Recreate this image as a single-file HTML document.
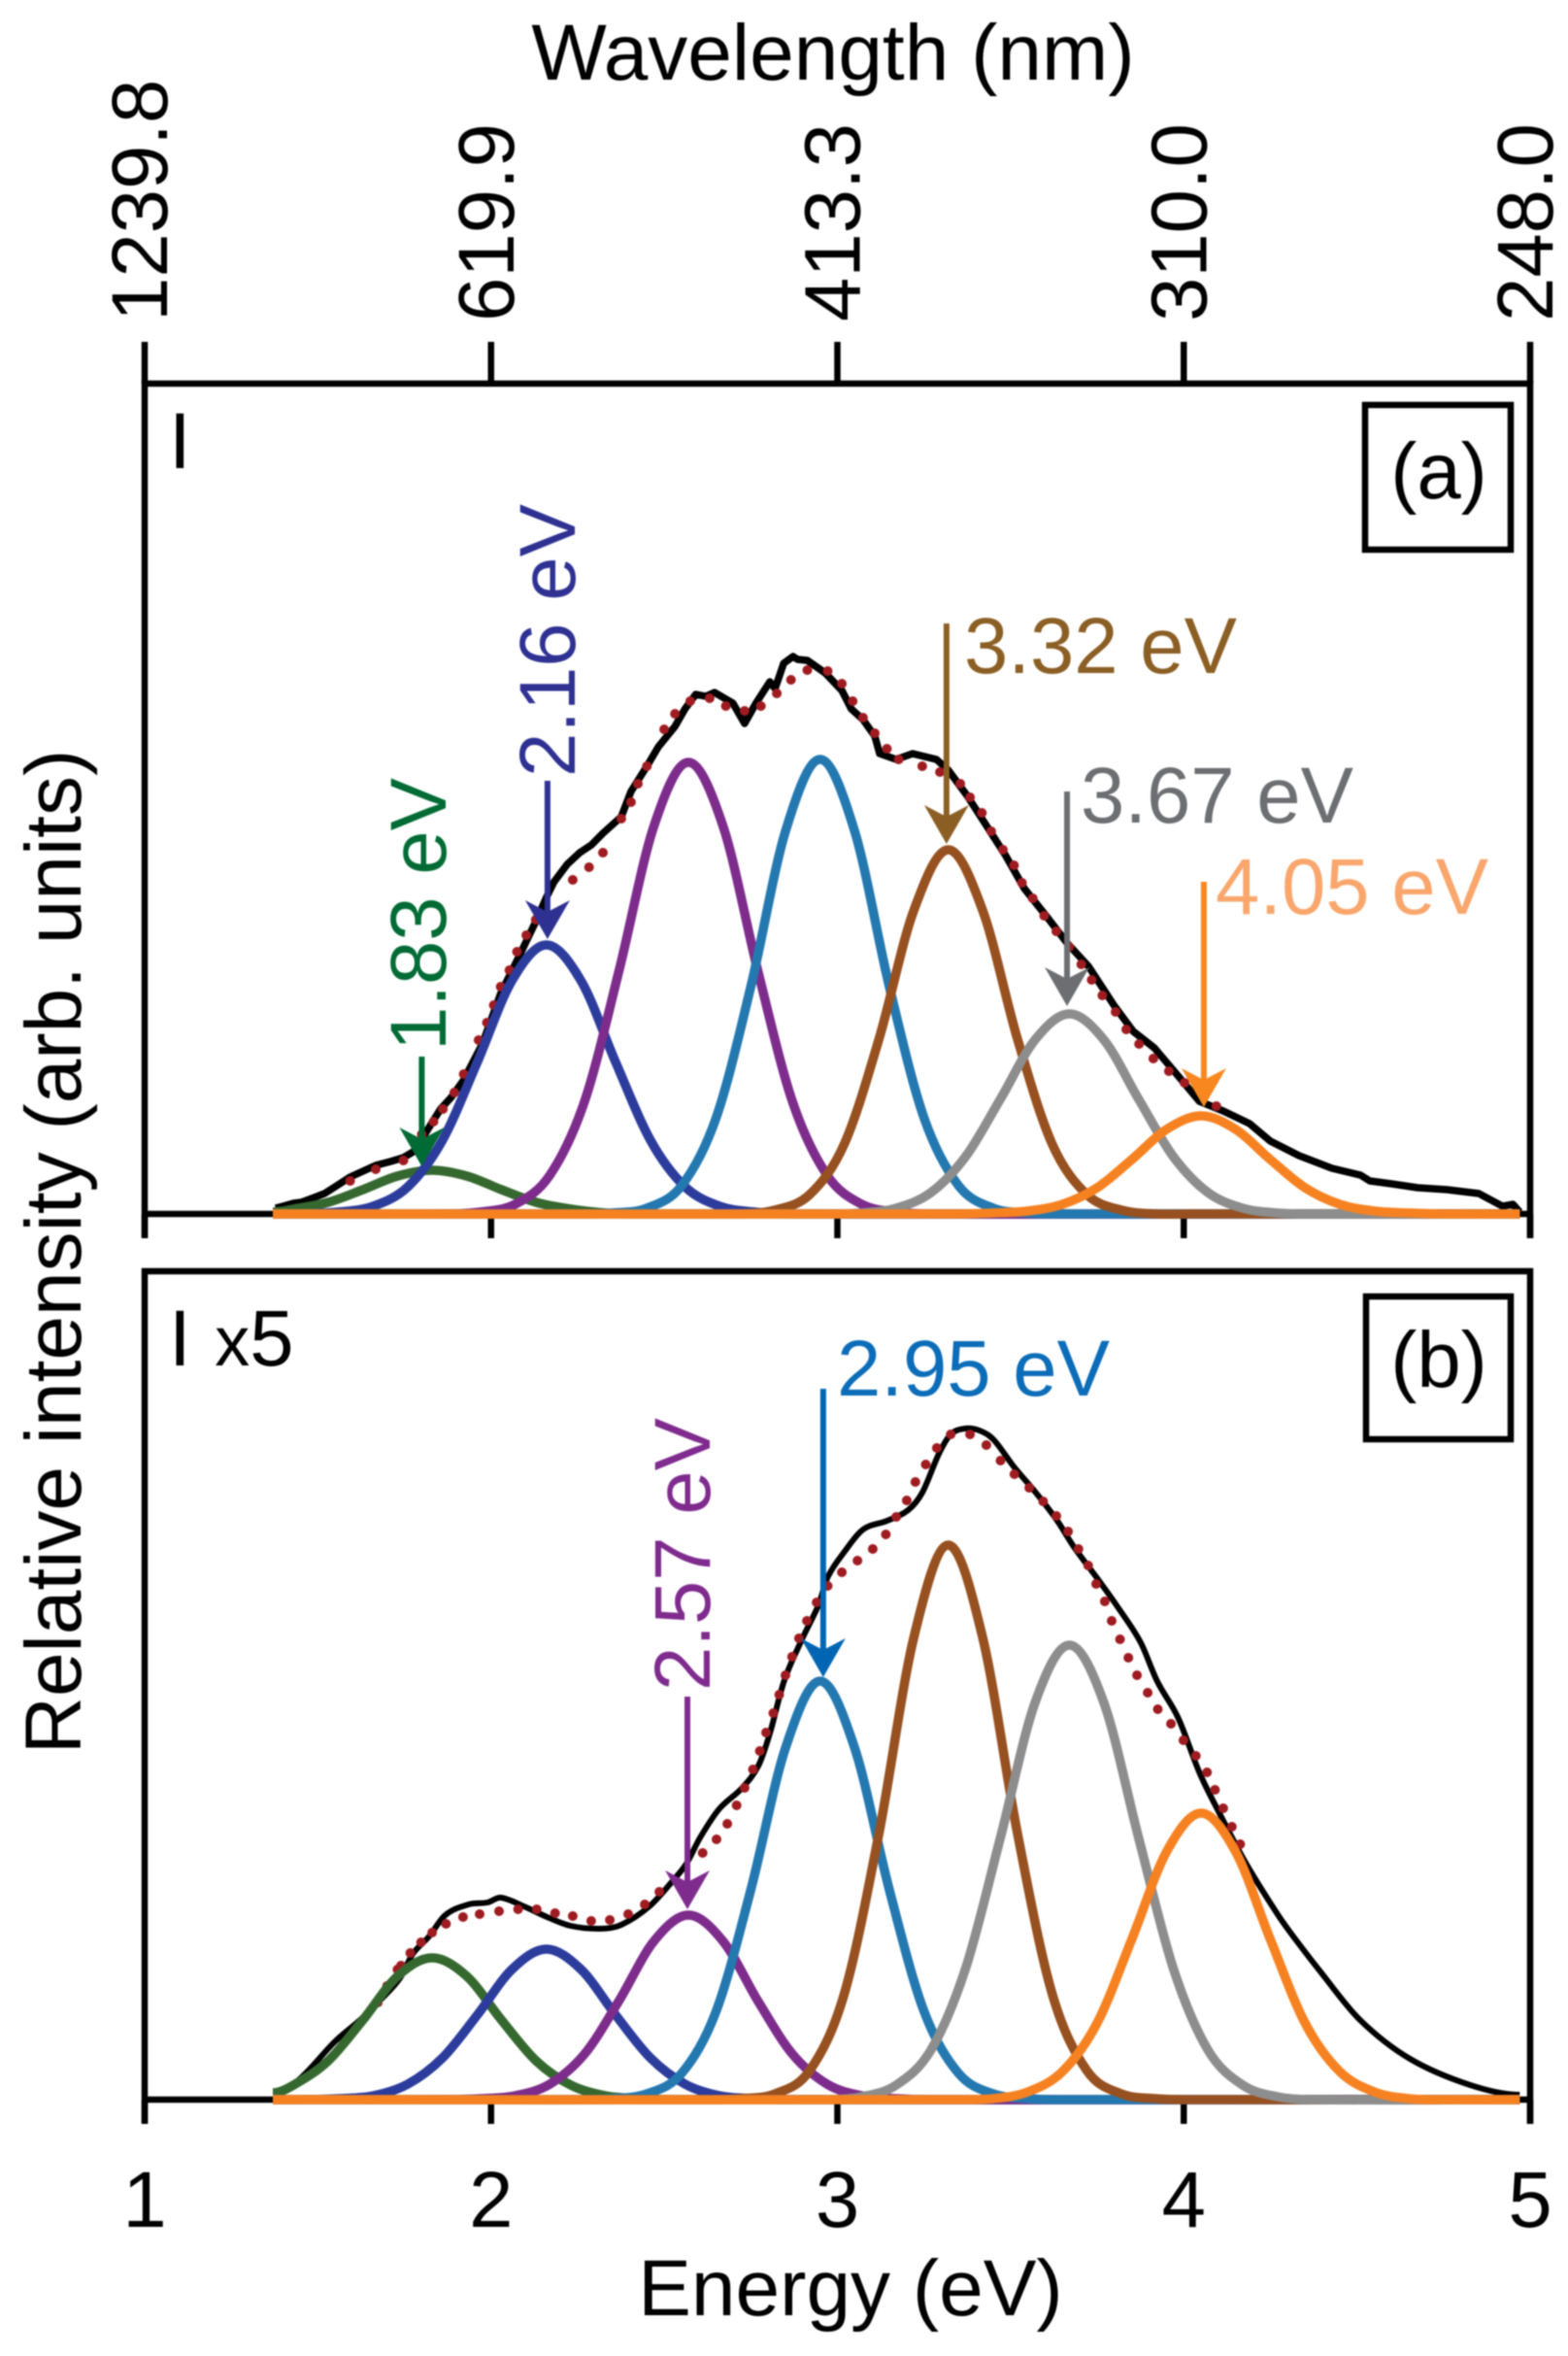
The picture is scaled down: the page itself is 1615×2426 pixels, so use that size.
<!DOCTYPE html>
<html lang="en">
<head>
<meta charset="utf-8">
<title>Relative intensity vs energy</title>
<style>
html,body{margin:0;padding:0;background:#fff;width:1615px;height:2426px;overflow:hidden}
svg{display:block;filter:blur(.8px)}
text{font-family:"Liberation Sans",Arial,sans-serif;font-size:81.5px;fill:#000}
</style>
</head>
<body>
<svg id="chart" xmlns="http://www.w3.org/2000/svg" width="1615" height="2426" viewBox="0 0 1615 2426">
  <rect x="0" y="0" width="1615" height="2426" fill="#fff"/>
  <g id="frames" fill="none" stroke="#000" stroke-width="6.5"></g>
  <g id="tick-labels"></g>
  <text x="858" y="82" text-anchor="middle" style="font-size:82px">Wavelength (nm)</text>
  <text x="876" y="2384" text-anchor="middle" style="font-size:82px">Energy (eV)</text>
  <text transform="rotate(-90 83 1289)" x="83" y="1289" text-anchor="middle" style="font-size:82px">Relative intensity (arb. units)</text>
  <g id="plot-a"></g>
  <g id="plot-b"></g>
  <g>
    <text x="174" y="482">I</text>
    <rect x="1406" y="417" width="150" height="149" fill="#fff" stroke="#000" stroke-width="6.5"/>
    <text x="1482" y="513" text-anchor="middle">(a)</text>
    <text transform="rotate(-90 459 1082)" x="459" y="1082" style="fill:#006b35">1.83 eV</text>
    <text transform="rotate(-90 592 800)" x="592" y="800" style="fill:#2e3192">2.16 eV</text>
    <text x="993" y="693" style="fill:#8b5e24">3.32 eV</text>
    <text x="1113" y="847" style="fill:#6d6e71">3.67 eV</text>
    <text x="1252" y="941" style="fill:#f9a66c">4.05 eV</text>
  </g>
  <g>
    <text x="174" y="1406">I <tspan dx="2" style="font-size:72px">x</tspan><tspan>5</tspan></text>
    <rect x="1407" y="1335" width="149" height="147" fill="#fff" stroke="#000" stroke-width="6.5"/>
    <text x="1482" y="1428" text-anchor="middle">(b)</text>
    <text transform="rotate(-90 731 1741)" x="731" y="1741" style="fill:#7f2b8e">2.57 eV</text>
    <text x="862" y="1437" style="fill:#0b6cb8">2.95 eV</text>
  </g>
</svg>
<script>
// ---- axis data ----
const energyTicks = [1, 2, 3, 4, 5];
const energyTickLabels = ['1', '2', '3', '4', '5'];
const wavelengthTickLabels = ['1239.8', '619.9', '413.3', '310.0', '248.0'];

// ---- component curves: energies (eV) and read intensities (panel a / panel b) ----
const greenEnergy  = [1.37,1.43,1.53,1.63,1.73,1.83,1.93,2.03,2.13,2.23,2.33,2.43,2.53,4.97];
const greenA       = [2,5,12,25,39,45,39,25,12,5,1,0,0,0];
const greenB       = [7,15,40,82,127,146,127,82,40,15,4,1,0,0];
const blueEnergy   = [1.37,1.46,1.56,1.66,1.76,1.86,1.96,2.06,2.16,2.26,2.36,2.46,2.56,2.66,2.76,2.86,4.97];
const blueA        = [0,0,2,8,28,76,156,240,277,240,156,76,28,8,2,0,0];
const blueB        = [0,0,1,4,16,43,87,134,155,134,87,43,16,4,1,0,0];
const purpleEnergy = [1.37,1.87,1.97,2.07,2.17,2.27,2.37,2.47,2.57,2.67,2.77,2.87,2.97,3.07,3.17,3.27,4.97];
const purpleA      = [0,0,2,10,40,116,251,399,465,399,251,116,40,10,2,0,0];
const purpleB      = [0,0,1,4,16,47,102,163,190,163,102,47,16,4,1,0,0];
const tealEnergy   = [1.37,2.25,2.35,2.45,2.55,2.65,2.75,2.85,2.95,3.05,3.15,3.25,3.35,3.45,3.55,3.65,4.97];
const tealA        = [0,0,1,6,29,99,234,394,468,394,234,99,29,6,1,0,0];
const tealB        = [0,0,1,6,27,91,216,362,431,362,216,91,27,6,1,0,0];
const brownEnergy  = [1.37,2.62,2.72,2.82,2.92,3.02,3.12,3.22,3.32,3.42,3.52,3.62,3.72,3.82,3.92,4.02,4.97];
const brownA       = [0,0,0,4,20,72,180,312,375,312,180,72,20,4,0,0,0];
const brownB       = [0,0,1,6,30,109,274,475,571,475,274,109,30,6,1,0,0];
const grayEnergy   = [1.37,2.97,3.07,3.17,3.27,3.37,3.47,3.57,3.67,3.77,3.87,3.97,4.07,4.17,4.27,4.37,4.97];
const grayA        = [0,0,1,6,22,59,118,179,206,179,118,59,22,6,1,0,0];
const grayB        = [0,0,3,15,51,135,269,408,468,408,269,135,51,15,3,0,0];
const orangeEnergy = [1.37,3.35,3.45,3.55,3.65,3.75,3.85,3.95,4.05,4.15,4.25,4.35,4.45,4.55,4.65,4.75,4.97];
const orangeA      = [0,0,1,3,10,27,56,87,101,87,56,27,10,3,1,0,0];
const orangeB      = [0,0,1,8,29,79,165,255,295,255,165,79,29,8,1,0,0];

// ---- measured spectrum (black trace) ----
const measuredEnergyA = [1.378,1.40,1.43,1.452,1.49,1.519,1.55,1.593,1.63,1.667,1.71,1.747,1.78,1.80,1.854,1.885,1.921,1.975,2.028,2.082,2.129,2.16,2.182,2.22,2.256,2.29,2.323,2.376,2.404,2.45,2.483,2.531,2.56,2.591,2.62,2.645,2.698,2.732,2.765,2.805,2.82,2.845,2.872,2.885,2.913,2.965,3.013,3.04,3.074,3.108,3.122,3.17,3.217,3.286,3.32,3.374,3.43,3.484,3.54,3.607,3.663,3.725,3.80,3.854,3.915,3.977,4.045,4.114,4.19,4.25,4.333,4.428,4.51,4.537,4.60,4.675,4.76,4.852,4.92,4.95,4.97];
const measuredA = [6,8,11,12,17,21,28,38,44,50,54,58,65,77,108,120,138,175,227,266,301,326,342,360,372,380,392,409,435,461,481,502,520,535,533,537,526,505,526,548,541,567,574,571,570,557,539,520,509,492,474,468,474,468,457,431,400,370,335,305,279,255,214,188,171,145,116,106,93,75,60,47,40,34,31,27,25,21,8,10,2];
const measuredEnergyB = [1.378,1.45,1.55,1.622,1.679,1.737,1.774,1.821,1.868,1.935,1.99,2.028,2.095,2.162,2.229,2.316,2.376,2.457,2.524,2.564,2.604,2.658,2.725,2.772,2.805,2.846,2.899,2.945,2.972,3.02,3.074,3.143,3.204,3.245,3.293,3.327,3.368,3.41,3.45,3.511,3.573,3.635,3.683,3.758,3.806,3.875,3.923,3.984,4.045,4.10,4.18,4.265,4.308,4.394,4.509,4.653,4.827,4.97];
const measuredB = [6,22,60,82,102,125,150,168,190,201,203,208,199,188,179,176,180,199,225,243,270,299,321,344,377,431,475,509,538,564,587,596,607,625,665,685,691,689,680,651,625,596,569,533,509,471,431,393,337,297,243,194,172,132,82,42,15,5];

// ---- fit envelope (red dots) ----
const fitEnergyA = [1.593,1.667,1.747,1.80,1.834,1.861,1.894,1.921,1.964,1.988,2.008,2.028,2.053,2.075,2.102,2.129,2.236,2.283,2.323,2.376,2.404,2.424,2.45,2.50,2.531,2.575,2.631,2.678,2.732,2.779,2.825,2.866,2.913,2.972,3.013,3.044,3.074,3.108,3.143,3.177,3.245,3.296,3.355,3.383,3.417,3.444,3.478,3.51,3.533,3.564,3.597,3.632,3.669,3.704,3.734,3.765,3.803,3.834,3.871,3.912,3.957,4.002,4.094];
const fitA = [34,46,55,82,95,108,125,144,179,197,215,234,251,270,287,303,344,357,372,407,424,443,461,499,515,528,531,523,518,523,536,550,560,559,546,528,511,495,479,468,461,455,443,429,413,394,375,359,341,325,307,291,275,257,241,225,208,190,175,160,147,135,111];
const fitEnergyB = [1.673,1.70,1.73,1.74,1.767,1.798,1.83,1.87,1.919,1.967,2.023,2.078,2.132,2.185,2.236,2.289,2.343,2.396,2.444,2.486,2.611,2.651,2.682,2.709,2.732,2.756,2.776,2.794,2.815,2.832,2.85,2.869,2.889,2.912,2.94,2.972,3.013,3.058,3.102,3.14,3.17,3.20,3.225,3.255,3.287,3.327,3.383,3.43,3.471,3.511,3.554,3.594,3.632,3.666,3.696,3.724,3.747,3.772,3.792,3.816,3.84,3.865,3.896,3.925,3.963,3.999,4.035,4.067,4.09,4.114,4.139,4.163];
const fitB = [100,117,134,138,151,162,172,181,188,191,194,196,196,192,189,184,185,191,201,214,254,268,284,303,321,340,359,378,398,417,437,456,475,493,512,529,543,555,567,582,600,617,636,654,671,685,685,674,658,644,630,616,601,585,567,550,531,513,493,474,455,437,419,402,387,370,354,337,319,300,281,263];

// ---- annotation arrows: energy position, tip and tail intensity ----
const arrowEnergyA = [1.80, 2.163, 3.315, 3.663, 4.058];
const arrowTipA    = [49, 283, 381, 214, 110];
const arrowTailA   = [162, 446, 608, 435, 342];
const arrowEnergyB = [2.567, 2.959];
const arrowTipB    = [196, 435];
const arrowTailB   = [415, 732];

// ---- axis functions ----
const xAxis = e => 149 + 356.75 * (e - 1);
const yAxisA = h => 1250 - h;
const yAxisB = h => 2162 - h;

const NS = 'http://www.w3.org/2000/svg';
function mk(tag, attrs, parent) {
  const el = document.createElementNS(NS, tag);
  for (const k in attrs) el.setAttribute(k, attrs[k]);
  parent.appendChild(el);
  return el;
}
function smoothPath(xs, ys, yAxis) {
  const px = xs.map(xAxis), py = ys.map(yAxis);
  const n = px.length;
  const m = px.map((_, i) => {
    if (i === 0 || i === n - 1) return 0;
    return (py[i + 1] - py[i - 1]) / (px[i + 1] - px[i - 1]);
  });
  let d = 'M' + px[0].toFixed(1) + ' ' + py[0].toFixed(1);
  for (let i = 0; i < n - 1; i++) {
    const dx = (px[i + 1] - px[i]) / 3;
    d += ' C' + (px[i] + dx).toFixed(1) + ' ' + (py[i] + m[i] * dx).toFixed(1) + ' ' +
      (px[i + 1] - dx).toFixed(1) + ' ' + (py[i + 1] - m[i + 1] * dx).toFixed(1) + ' ' +
      px[i + 1].toFixed(1) + ' ' + py[i + 1].toFixed(1);
  }
  return d;
}
function linePath(xs, ys, yAxis) {
  return xs.map((e, i) => (i ? 'L' : 'M') + xAxis(e).toFixed(1) + ' ' + yAxis(ys[i]).toFixed(1)).join(' ');
}

// ---- frames and ticks ----
const frames = document.getElementById('frames');
const frameA = mk('path', { d: 'M' + xAxis(1) + ' ' + yAxisA(-25) + ' V395 H' + xAxis(5) + ' V' + yAxisA(-25) + ' M' + xAxis(1) + ' ' + yAxisA(0) + ' H' + xAxis(5) }, frames);


const frameB = mk('path', { d: 'M' + xAxis(1) + ' ' + yAxisB(-25) + ' V1309 H' + xAxis(5) + ' V' + yAxisB(-25) + ' M' + xAxis(1) + ' ' + yAxisB(0) + ' H' + xAxis(5) }, frames);



const tickLabelGroup = document.getElementById('tick-labels');
energyTicks.forEach((e, i) => {
  const x = xAxis(e);
  const topTick = mk('line', { x1: x, x2: x, y1: 352, y2: 395 }, frames);
  
  
  const midTick = mk('line', { x1: x, x2: x, y1: yAxisA(0), y2: yAxisA(-25) }, frames);
  
  
  const botTick = mk('line', { x1: x, x2: x, y1: yAxisB(0), y2: yAxisB(-25) }, frames);
  
  

  const bottomLabel = mk('text', { x: x, y: 2293, 'text-anchor': 'middle' }, tickLabelGroup);
  bottomLabel.textContent = energyTickLabels[i];
  
  

  const lx = x + 23;
  const topLabel = mk('text', { x: lx, y: 331, transform: 'rotate(-90 ' + lx + ' 331)' }, tickLabelGroup);
  topLabel.textContent = wavelengthTickLabels[i];
  
  
});

// ---- panels ----
function drawPanel(groupId, yAxis, measuredE, measured, blackWidth, smooth, fitE, fit, comps) {
  const g = document.getElementById(groupId);
  const trace = mk('path', { d: smooth ? smoothPath(measuredE, measured, yAxis) : linePath(measuredE, measured, yAxis), fill: 'none', stroke: '#000', 'stroke-width': blackWidth, 'stroke-linejoin': 'round' }, g);
  
  
  fitE.forEach((e, i) => {
    const dot = mk('circle', { cx: xAxis(e).toFixed(1), cy: yAxis(fit[i]).toFixed(1), r: 5, fill: '#9e1b20' }, g);
    
    
  });
  comps.forEach(c => {
    const p = mk('path', { d: smoothPath(c.energy, c.values, yAxis), fill: 'none', stroke: c.color, 'stroke-width': 9.5, 'stroke-linejoin': 'round' }, g);
    
    
  });
}
drawPanel('plot-a', yAxisA, measuredEnergyA, measuredA, 7.5, false, fitEnergyA, fitA, [
  { name: 'gaussian-1-83-ev', color: '#35682f', energy: greenEnergy, values: greenA },
  { name: 'gaussian-2-16-ev', color: '#2c3c9c', energy: blueEnergy, values: blueA },
  { name: 'gaussian-2-57-ev', color: '#7d2c8c', energy: purpleEnergy, values: purpleA },
  { name: 'gaussian-2-95-ev', color: '#2478b0', energy: tealEnergy, values: tealA },
  { name: 'gaussian-3-32-ev', color: '#97501f', energy: brownEnergy, values: brownA },
  { name: 'gaussian-3-67-ev', color: '#8c8d8c', energy: grayEnergy, values: grayA },
  { name: 'gaussian-4-05-ev', color: '#f68121', energy: orangeEnergy, values: orangeA }
]);
drawPanel('plot-b', yAxisB, measuredEnergyB, measuredB, 6, true, fitEnergyB, fitB, [
  { name: 'gaussian-1-83-ev', color: '#35682f', energy: greenEnergy, values: greenB },
  { name: 'gaussian-2-16-ev', color: '#2c3c9c', energy: blueEnergy, values: blueB },
  { name: 'gaussian-2-57-ev', color: '#7d2c8c', energy: purpleEnergy, values: purpleB },
  { name: 'gaussian-2-95-ev', color: '#2478b0', energy: tealEnergy, values: tealB },
  { name: 'gaussian-3-32-ev', color: '#97501f', energy: brownEnergy, values: brownB },
  { name: 'gaussian-3-67-ev', color: '#8c8d8c', energy: grayEnergy, values: grayB },
  { name: 'gaussian-4-05-ev', color: '#f68121', energy: orangeEnergy, values: orangeB }
]);

// ---- arrows ----
function drawArrow(groupId, yAxis, e, tip, tail, color) {
  const g = document.getElementById(groupId);
  const x = xAxis(e), yTip = yAxis(tip), yTail = yAxis(tail);
  const line = mk('line', { x1: x, x2: x, y1: yTail, y2: yTip - 25, stroke: color, 'stroke-width': 6 }, g);
  
  
  const head = mk('path', {
    d: 'M' + x + ' ' + yTip + ' L' + (x - 23) + ' ' + (yTip - 40) + ' L' + x + ' ' + (yTip - 28) + ' L' + (x + 23) + ' ' + (yTip - 40) + ' Z',
    fill: color
  }, g);
  
  
}
const arrowColorsA = ['#006b35', '#2e3192', '#8b5e24', '#6d6e71', '#f7871e'];
const arrowColorsB = ['#7f2b8e', '#0066b3'];
arrowEnergyA.forEach((e, i) => drawArrow('plot-a', yAxisA, e, arrowTipA[i], arrowTailA[i], arrowColorsA[i]));
arrowEnergyB.forEach((e, i) => drawArrow('plot-b', yAxisB, e, arrowTipB[i], arrowTailB[i], arrowColorsB[i]));
</script>
</body>
</html>
